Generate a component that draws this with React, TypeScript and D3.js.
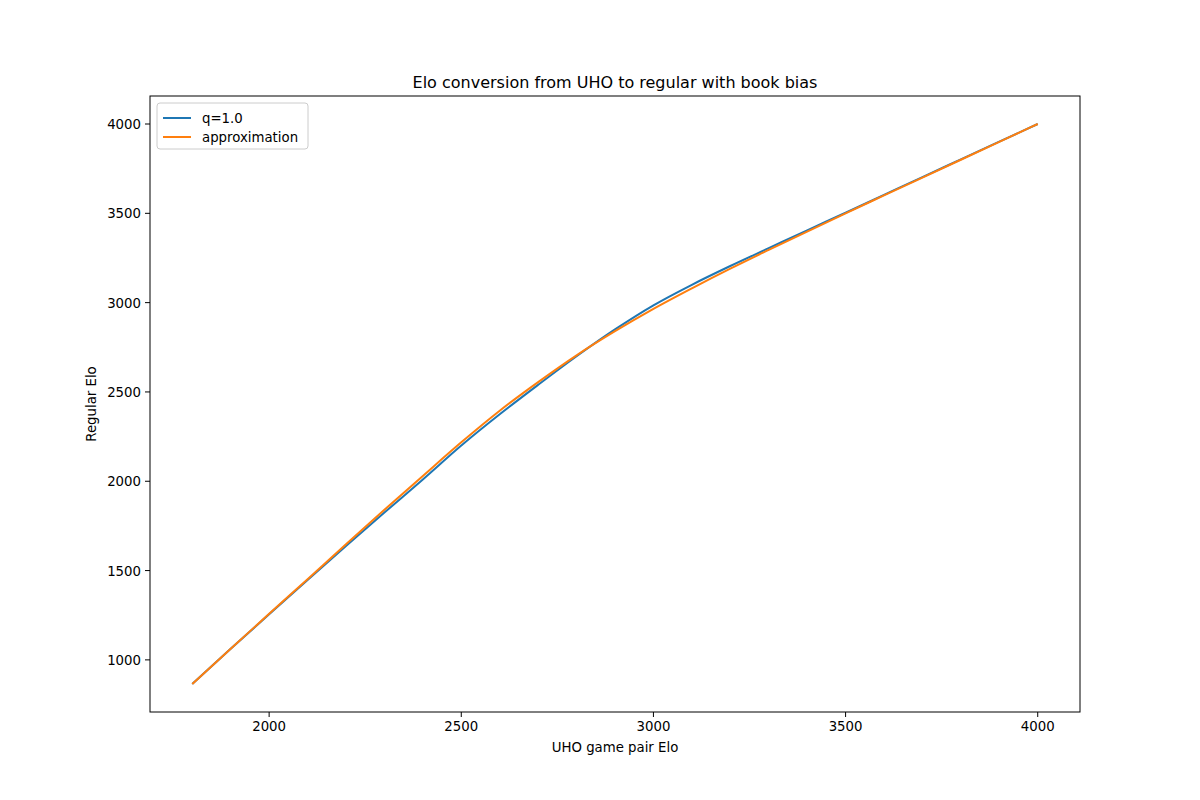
import * as d3 from 'd3';

const uhoElo = [1800, 1900, 2000, 2100, 2200, 2300, 2400, 2500, 2600, 2700, 2800, 2900, 3000, 3100, 3200, 3300, 3400, 3500, 3600, 3700, 3800, 3900, 4000];
const q1 = [865, 1062, 1255, 1447, 1637, 1825, 2010, 2200, 2375, 2540, 2700, 2850, 2985, 3100, 3205, 3305, 3405, 3503, 3603, 3703, 3802, 3901, 4000];
const approx = [865, 1062, 1258, 1452, 1647, 1840, 2030, 2218, 2395, 2555, 2705, 2840, 2965, 3080, 3190, 3295, 3398, 3500, 3600, 3700, 3800, 3900, 4000];
const xTicks = [2000, 2500, 3000, 3500, 4000];
const yTicks = [1000, 1500, 2000, 2500, 3000, 3500, 4000];
const series = [
  { name: 'q=1.0', values: q1, color: '#1f77b4' },
  { name: 'approximation', values: approx, color: '#ff7f0e' },
];

export default function App() {
  const left = 150, right = 1080, top = 96, bottom = 712;
  const x = d3.scaleLinear().domain([1690, 4110]).range([left, right]);
  const y = d3.scaleLinear().domain([708.25, 4156.75]).range([bottom, top]);
  const line = (vals: number[]) =>
    d3.line<number>().x((_, i) => x(uhoElo[i])).y((d) => y(d)).curve(d3.curveMonotoneX)(vals) ?? '';
  const font = 'DejaVu Sans, sans-serif';

  return (
    <svg width={1200} height={800} style={{ position: 'absolute', left: 0, top: 0, background: '#fff' }} fontFamily={font}>
      <rect x={0} y={0} width={1200} height={800} fill="#fff" />
      {series.map((s) => (
        <path key={s.name} d={line(s.values)} fill="none" stroke={s.color} strokeWidth={2} />
      ))}
      <rect x={left} y={top} width={right - left} height={bottom - top} fill="none" stroke="#000" strokeWidth={1} />
      {xTicks.map((t) => (
        <g key={t}>
          <line x1={x(t)} x2={x(t)} y1={bottom} y2={bottom + 5} stroke="#000" />
          <text x={x(t)} y={bottom + 19} textAnchor="middle" fontSize={13.3}>{t}</text>
        </g>
      ))}
      {yTicks.map((t) => (
        <g key={t}>
          <line x1={left - 5} x2={left} y1={y(t)} y2={y(t)} stroke="#000" />
          <text x={left - 9} y={y(t) + 5} textAnchor="end" fontSize={13.3}>{t}</text>
        </g>
      ))}
      <text x={(left + right) / 2} y={752} textAnchor="middle" fontSize={13.3}>UHO game pair Elo</text>
      <text transform={`translate(96,${(top + bottom) / 2}) rotate(-90)`} textAnchor="middle" fontSize={13.3}>Regular Elo</text>
      <text x={(left + right) / 2} y={88} textAnchor="middle" fontSize={16}>Elo conversion from UHO to regular with book bias</text>
      <rect x={157} y={103} width={151} height={46} rx={3} fill="#fff" stroke="#ccc" />
      {series.map((s, i) => (
        <g key={s.name}>
          <line x1={163} x2={191} y1={118 + i * 19} y2={118 + i * 19} stroke={s.color} strokeWidth={2} />
          <text x={202} y={123 + i * 19} fontSize={13.3}>{s.name}</text>
        </g>
      ))}
    </svg>
  );
}
